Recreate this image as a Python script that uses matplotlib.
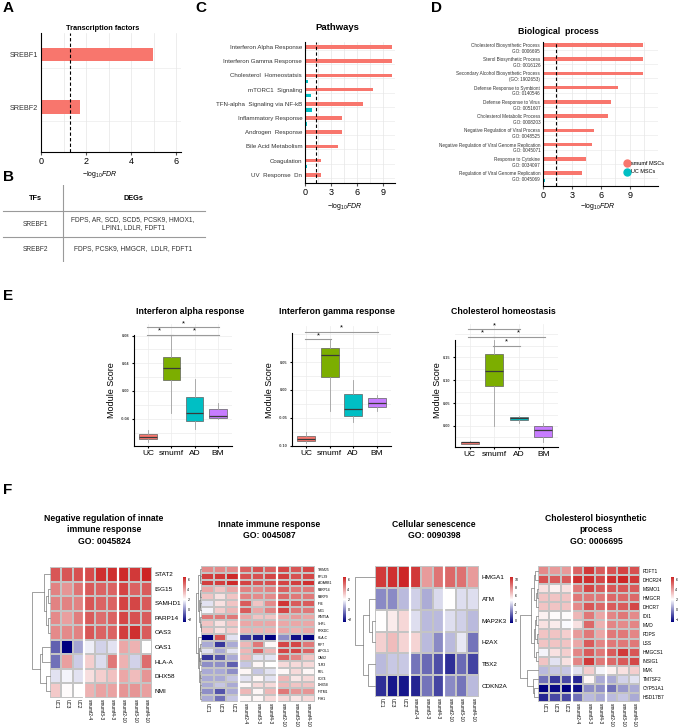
import numpy as np
import matplotlib
matplotlib.use('Agg')
import matplotlib.pyplot as plt
from matplotlib.colors import LinearSegmentedColormap
from matplotlib.lines import Line2D
from matplotlib.ticker import MultipleLocator

plt.rcParams['font.family'] = ['Liberation Sans', 'DejaVu Sans']
plt.rcParams['mathtext.fontset'] = 'custom'
plt.rcParams['mathtext.rm'] = 'Liberation Sans'
plt.rcParams['mathtext.it'] = 'Liberation Sans:italic'

RED, CYAN, GREEN, PURPLE = '#F8766D', '#00BFC4', '#7CAE00', '#C77CFF'

# ---------------- data ----------------
tf_names = ['SREBF1', 'SREBF2']
tf_fdr = [4.95, 1.73]

table_tfs = ['SREBF1', 'SREBF2']
table_degs = ['FDPS, AR, SCD, SCD5, PCSK9, HMOX1,\nLPIN1, LDLR, FDFT1',
              'FDPS, PCSK9, HMGCR,  LDLR, FDFT1']

pathways = ['Interferon Alpha Response', 'Interferon Gamma Response',
            'Cholesterol  Homeostatsis', 'mTORC1  Signaling',
            'TFN-alpha  Signaling via NF-kB', 'Inflammatory Response',
            'Androgen  Response', 'Bile Acid Metabolism', 'Coagulation',
            'UV  Response  Dn']
path_smumf = [10.0, 10.0, 10.0, 7.8, 6.7, 4.3, 4.3, 3.8, 1.9, 1.8]
path_uc = [0.0, 0.0, 0.3, 0.7, 0.8, 0.2, 0.0, 0.0, 0.2, 0.1]

bio_terms = ['Cholesterol Biosynthetic Process\nGO: 0006695',
             'Sterol Biosynthetic Process\nGO: 0016126',
             'Secondary Alcohol Biosynthetic Process\n(GO: 1902653)',
             'Defense Response to Symbiont\nGO: 0140546',
             'Defense Response to Virus\nGO: 0051607',
             'Cholesterol Metabolic Process\nGO: 0008203',
             'Negative Regulation of Viral Process\nGO: 0048525',
             'Negative Regulation of Viral Genome Replication\nGO: 0045071',
             'Response to Cytokine\nGO: 0034097',
             'Regulation of Viral Genome Replication\nGO: 0045069']
bio_smumf = [10.3, 10.3, 10.3, 7.8, 7.0, 6.7, 5.3, 5.1, 4.5, 4.0]
bio_uc = [0, 0, 0, 0, 0, 0, 0, 0, 0, 0.2]
fdr_cutoff = 1.3

groups = ['UC', 'smumf', 'AD', 'BM']
group_colors = [RED, GREEN, CYAN, PURPLE]
# five-number summaries: (whisker low, q1, median, q3, whisker high)
ifna_stats = [(-0.074, -0.069, -0.066, -0.062, -0.056),
              (-0.032, 0.016, 0.033, 0.049, 0.079),
              (-0.055, -0.044, -0.032, -0.008, 0.017),
              (-0.040, -0.039, -0.036, -0.026, -0.017)]
ifng_stats = [(-0.095, -0.092, -0.088, -0.082, -0.076),
              (-0.037, 0.023, 0.0625, 0.076, 0.090),
              (-0.057, -0.046, -0.034, -0.008, 0.018),
              (-0.037, -0.030, -0.023, -0.015, -0.009)]
chol_stats = [(-0.040, -0.039, -0.036, -0.034, -0.033),
              (0.0, 0.087, 0.119, 0.157, 0.188),
              (0.007, 0.012, 0.017, 0.020, 0.022),
              (-0.036, -0.023, -0.009, 0.001, 0.007)]
# significance brackets: (group i, group j, height)
ifna_sig = [(0, 1, 0.081), (1, 3, 0.081), (0, 3, 0.0925)]
ifng_sig = [(0, 1, 0.0914), (0, 3, 0.1045)]
chol_sig = [(1, 2, 0.175), (0, 1, 0.195), (1, 3, 0.195), (0, 2, 0.211)]

samples = ['UC1', 'UC3', 'UC2', 'smumf2-4', 'smumf3-3', 'smumf4-3',
           'smumf2-10', 'smumf3-10', 'smumf4-10']

hm1_genes = ['STAT2', 'ISG15', 'SAMHD1', 'PARP14', 'OAS3', 'OAS1', 'HLA-A', 'DHX58', 'NMI']
hm1_vals = [[5.5, 5.5, 5.6, 5.7, 6.3, 6.3, 6.4, 6.1, 6.5],
            [4.6, 4.2, 4.9, 5.4, 5.2, 5.2, 5.9, 5.2, 5.4],
            [4.6, 4.6, 4.6, 5.5, 5.2, 5.2, 5.9, 5.8, 5.4],
            [4.4, 4.0, 4.7, 5.4, 5.0, 5.2, 5.8, 5.6, 5.4],
            [4.4, 4.4, 4.6, 5.5, 5.2, 5.2, 6.0, 6.3, 5.4],
            [-0.8, -2.5, 0.4, 1.7, 1.2, 1.5, 3.8, 3.6, 2.0],
            [-0.5, 4.0, 1.1, 3.0, 1.4, 4.8, 3.6, 1.2, 5.0],
            [1.5, 1.8, 1.5, 2.7, 3.0, 3.3, 3.8, 3.4, 4.2],
            [3.1, 2.1, 2.0, 3.6, 3.9, 3.9, 4.2, 4.2, 4.0]]
hm1_tree = [[0, [[1, 2, 0.12], [3, 4, 0.12], 0.2], 0.35],
            [[5, 6, 0.45], [7, 8, 0.2], 0.55], 1.0]

hm2_genes = ['TRIM25', 'RPL39', 'ADARB1', 'PARP14', 'PARP9', 'IFI6', 'MX1', 'WNT5A',
             'SHFL', 'PRKDC', 'HLA-C', 'IRF7', 'APOL1', 'OAS2', 'TLR3', 'REL',
             'CD74', 'DHX58', 'IFITM1', 'IFIH1']
hm2_vals = [[4.4, 4.4, 4.4, 5.3, 5.6, 5.3, 5.8, 5.5, 5.8],
            [6.0, 6.1, 6.4, 5.6, 5.6, 5.8, 6.0, 5.6, 5.8],
            [6.0, 6.0, 6.4, 5.9, 5.6, 5.6, 5.9, 6.0, 6.3],
            [3.8, 3.2, 3.8, 4.6, 4.4, 4.6, 5.3, 4.8, 4.8],
            [3.2, 2.6, 3.2, 4.6, 4.4, 4.4, 5.1, 4.8, 4.8],
            [1.5, 2.6, 3.2, 5.4, 3.2, 4.4, 6.2, 5.4, 5.4],
            [1.8, 3.0, 3.5, 5.4, 3.8, 4.6, 5.8, 4.8, 4.8],
            [4.8, 4.8, 4.8, 3.8, 3.2, 3.2, 3.8, 4.1, 3.8],
            [3.2, 2.6, 3.2, 3.8, 3.8, 3.8, 3.8, 3.8, 3.8],
            [3.2, 2.6, 3.0, 3.6, 3.6, 3.6, 3.8, 3.6, 3.8],
            [-2.5, 5.5, 1.5, -1.5, -2.0, -2.5, 0.0, -2.2, -2.5],
            [0.5, -1.5, 0.5, 3.5, 4.8, 2.2, 5.8, 5.8, 4.8],
            [1.5, 0.5, 1.5, 3.5, 5.2, 3.5, 5.8, 5.8, 5.2],
            [-1.5, -1.0, 0.5, 3.5, 1.5, 1.5, 5.2, 4.5, 3.2],
            [0.0, 0.0, -0.8, 1.0, 2.2, 2.0, 2.8, 2.8, 2.8],
            [0.5, 0.5, 0.0, 2.2, 1.0, 1.5, 2.2, 2.8, 2.2],
            [0.5, 0.5, 1.0, 1.5, 2.2, 1.5, 3.5, 2.5, 2.8],
            [0.5, 1.0, 0.5, 2.2, 2.8, 2.8, 3.5, 3.2, 3.2],
            [0.0, -1.0, 0.5, 3.5, 2.2, 3.5, 4.8, 4.2, 4.2],
            [0.5, -0.5, 1.0, 2.2, 2.2, 2.8, 2.8, 2.5, 2.8]]
hm2_tree = [[[0, [1, 2, 0.15], 0.3], [[[3, 4, 0.12], [5, 6, 0.18], 0.28], [7, [8, 9, 0.1], 0.25], 0.4], 0.55],
            [10, [[[11, 12, 0.2], [13, 14, 0.22], 0.32], [[15, 16, 0.12], [17, [18, 19, 0.12], 0.18], 0.25], 0.42], 0.7],
            1.0]

hm3_genes = ['HMGA1', 'ATM', 'MAP2K3', 'H2AX', 'TBX2', 'CDKN2A']
hm3_vals = [[10.0, 10.2, 10.5, 10.0, 7.5, 8.5, 8.8, 8.6, 7.5],
            [2.5, 2.5, 3.5, 4.0, 3.2, 4.2, 5.0, 4.3, 4.3],
            [5.0, 5.5, 6.0, 4.3, 3.5, 3.5, 4.3, 4.0, 3.5],
            [6.2, 6.7, 6.1, 6.1, 3.5, 2.5, 3.5, 4.5, 2.0],
            [3.5, 3.8, 3.8, 2.0, 1.8, 1.2, 0.5, 1.8, 1.0],
            [0.5, 0.0, 0.0, 0.3, 2.0, 1.0, 2.5, 2.0, 3.5]]
hm3_tree = [0, [[1, [2, 3, 0.15], 0.3], [4, 5, 0.35], 0.6], 1.0]

hm4_genes = ['FDFT1', 'DHCR24', 'MSMO1', 'HMGCR', 'DHCR7', 'IDI1', 'MVD', 'FDPS', 'LSS',
             'HMGCS1', 'INSIG1', 'MVK', 'TM7SF2', 'CYP51A1', 'HSD17B7']
hm4_vals = [[4.4, 4.1, 4.1, 5.2, 6.1, 5.4, 5.6, 5.9, 5.6],
            [5.6, 5.4, 5.4, 6.3, 6.3, 5.8, 6.3, 6.6, 6.1],
            [2.6, 2.3, 2.6, 4.8, 5.8, 5.4, 5.5, 5.5, 5.4],
            [3.2, 3.2, 3.2, 4.8, 4.8, 4.8, 5.1, 5.1, 5.1],
            [3.2, 3.2, 3.2, 4.4, 5.5, 5.1, 5.4, 5.4, 5.8],
            [2.3, 2.1, 2.1, 3.5, 4.8, 3.8, 4.5, 4.8, 4.4],
            [2.6, 2.4, 1.9, 2.6, 5.1, 3.6, 4.5, 4.4, 4.5],
            [3.2, 3.2, 3.0, 4.1, 4.8, 3.8, 4.8, 4.8, 4.5],
            [3.2, 3.2, 3.2, 3.8, 5.4, 4.5, 4.8, 4.8, 4.8],
            [1.8, 2.6, 3.0, 4.5, 5.4, 4.8, 5.4, 6.1, 5.5],
            [3.2, 1.5, 2.6, 4.5, 6.1, 4.8, 5.1, 5.4, 5.8],
            [0.8, 1.0, 1.0, 1.5, 3.0, 1.8, 2.3, 2.6, 3.0],
            [-0.5, -1.5, -1.2, -1.8, 2.2, 0.5, 0.5, 1.2, 1.5],
            [-2.5, -2.3, -2.6, -2.2, 0.0, 0.0, -0.5, 0.2, 0.5],
            [-1.8, -1.2, -1.2, -0.5, 0.8, 0.5, 0.8, 1.0, 0.5]]
hm4_tree = [[[[0, 1, 0.15], [[2, 3, 0.08], 4, 0.12], 0.2],
             [[[5, 6, 0.1], [7, 8, 0.08], 0.15], [9, 10, 0.12], 0.2], 0.4],
            [11, [12, [13, 14, 0.2], 0.3], 0.6], 1.0]

# ---------------- figure helpers ----------------
W, H = 678, 728
fig = plt.figure(figsize=(W / 100, H / 100), dpi=100)


def rect(x0, y0, x1, y1):
    return [x0 / W, 1 - y1 / H, (x1 - x0) / W, (y1 - y0) / H]


def ftext(x, y, s, **kw):
    kw.setdefault('ha', 'center')
    kw.setdefault('va', 'center')
    return fig.text(x / W, 1 - y / H, s, **kw)


XLAB = r'$-\mathrm{log}_{10}\mathit{FDR}$'

# panel letters
for letter, (lx, ly) in zip('ABCDEF', [(8, 8), (8, 177), (201, 8), (436, 8), (8, 296), (8, 490)]):
    ftext(lx, ly, letter, fontsize=11, fontweight='bold')


def style_gg(ax):
    ax.set_axisbelow(True)
    for s in ('top', 'right'):
        ax.spines[s].set_visible(False)
    for s in ('left', 'bottom'):
        ax.spines[s].set_color('black')
        ax.spines[s].set_linewidth(0.8)


def bar_panel(box, names, red, uc, xlim, xstep, ylim, label_fs, grid_off, uc_off,
              two_line=False):
    ax = fig.add_axes(rect(*box))
    y = np.arange(len(names))
    ax.barh(y, red, height=0.25, color=RED, zorder=2)
    if uc is not None:
        ax.barh(y + uc_off, uc, height=0.25, color=CYAN, zorder=2)
    ax.axvline(fdr_cutoff, color='black', ls=(0, (3, 2)), lw=0.8, zorder=3)
    ax.set_xlim(*xlim)
    ax.set_ylim(*ylim)
    ax.xaxis.set_major_locator(MultipleLocator(xstep))
    ax.xaxis.set_minor_locator(MultipleLocator(xstep / 2))
    ax.grid(True, axis='x', which='both', color='#e6e6e6', lw=0.5)
    for yy in y:
        ax.axhline(yy + grid_off, color='#ececec', lw=0.5, zorder=0)
    if two_line:
        ax.set_yticks(y + 0.17)
    else:
        ax.set_yticks(y)
    ax.set_yticklabels(names, fontsize=label_fs, color='#333333', multialignment='right')
    ax.tick_params(axis='y', length=0, pad=2)
    ax.tick_params(axis='x', which='major', labelsize=6.5, length=2, pad=1.5, color='#555555')
    ax.tick_params(axis='x', which='minor', length=0)
    style_gg(ax)
    return ax


# ---------------- A ----------------
axA = bar_panel((41, 33, 181, 152), tf_names, tf_fdr, None, (0, 6.2), 2, (1.85, -0.4),
                5.2, 0.27, 0.42)
ftext(103, 28, 'Transcription factors', fontsize=5.3, fontweight='bold')
ftext(100, 175, XLAB, fontsize=5)

# ---------------- B (table) ----------------
axB = fig.add_axes(rect(0, 185, 210, 262))
axB.set_xlim(0, 210)
axB.set_ylim(262, 185)
axB.axis('off')
axB.plot([63, 63], [185, 262], color='#9a9a9a', lw=0.8)
for ly in (211, 237):
    axB.plot([3, 205], [ly, ly], color='#9a9a9a', lw=0.8)
axB.text(35, 198, 'TFs', ha='center', va='center', fontsize=5.3, fontweight='bold')
axB.text(133, 198, 'DEGs', ha='center', va='center', fontsize=5.3, fontweight='bold')
for ty, tf, deg in zip((224, 249), table_tfs, table_degs):
    axB.text(35, ty, tf, ha='center', va='center', fontsize=4.8, color='#333333')
    axB.text(133, ty, deg, ha='center', va='center', fontsize=4.8, color='#333333',
             multialignment='center', linespacing=1.2)

# ---------------- C ----------------
axC = bar_panel((305, 42, 395, 183), pathways, path_smumf, path_uc, (0, 10.4), 3,
                (9.58, -0.35), 4.4, 0.21, 0.42)
ftext(337, 27, 'Pathways', fontsize=6.8, fontweight='bold')
ftext(345, 206, XLAB, fontsize=5)

# ---------------- D ----------------
axD = bar_panel((543, 42, 658, 186), bio_terms, bio_smumf, bio_uc, (0, 11.9), 3,
                (9.9, -0.2), 3.3, 0.35, 0.5, two_line=True)
ftext(558, 31, 'Biological  process', fontsize=6.3, fontweight='bold')
ftext(598, 206, XLAB, fontsize=5)
handles = [Line2D([], [], marker='o', ls='', color=RED, markersize=5),
           Line2D([], [], marker='o', ls='', color=CYAN, markersize=5)]
fig.legend(handles, ['smumf MSCs', 'UC MSCs'], loc='center left',
           bbox_to_anchor=(621 / W, 1 - 167.5 / H), frameon=False, fontsize=4,
           handletextpad=0.1, labelspacing=0.7, handlelength=1.2, borderpad=0)


# ---------------- E ----------------
def box_panel(box, stats, ylim, yticks, spine_top, sigs, title, title_x, ylab_x):
    ax = fig.add_axes(rect(*box))
    bstats = [dict(whislo=s[0], q1=s[1], med=s[2], q3=s[3], whishi=s[4], fliers=[])
              for s in stats]
    b = ax.bxp(bstats, positions=[1, 2, 3, 4], widths=0.75, patch_artist=True,
               showfliers=False, showcaps=False,
               boxprops=dict(linewidth=0.5, edgecolor='#606060'),
               medianprops=dict(color='#3a3a3a', linewidth=0.9),
               whiskerprops=dict(color='#a0a0a0', linewidth=0.6))
    for patch, c in zip(b['boxes'], group_colors):
        patch.set_facecolor(c)
        patch.set_zorder(2)
    ax.set_xlim(0.4, 4.6)
    ax.set_ylim(*ylim)
    ax.set_yticks(yticks)
    ax.set_yticklabels(['%.2f' % v for v in yticks], fontsize=2.8, fontweight='bold',
                       color='#444444')
    step = yticks[1] - yticks[0]
    ax.yaxis.set_minor_locator(MultipleLocator(step / 2))
    ax.set_xticks([1, 2, 3, 4])
    ax.set_xticklabels(groups, fontsize=6)
    ax.grid(True, which='both', color='#ececec', lw=0.5)
    ax.tick_params(axis='both', which='major', length=1.5, pad=1.5)
    ax.tick_params(axis='y', which='minor', length=0)
    style_gg(ax)
    ax.spines['left'].set_bounds(ylim[0], spine_top)
    for i, j, h in sigs:
        ax.plot([i + 1 - 0.05, j + 1 + 0.05], [h, h], color='#9a9a9a', lw=0.8,
                clip_on=False, zorder=3)
        ax.text((i + j) / 2 + 1, h, '*', ha='center', va='bottom', fontsize=5.5,
                clip_on=False)
    ftext(title_x, 311, title, fontsize=6.3, fontweight='bold')
    ftext(ylab_x, 390, 'Module Score', fontsize=6.5, rotation=90)
    return ax


box_panel((134, 324, 232, 446), ifna_stats, (-0.0794, 0.0967), [-0.04, 0.0, 0.04, 0.08],
          0.081, ifna_sig, 'Interferon alpha response', 190, 111)
box_panel((292, 326, 391, 446), ifng_stats, (-0.1004, 0.1147), [-0.10, -0.05, 0.0, 0.05],
          0.1027, ifng_sig, 'Interferon gamma response', 337, 270)
box_panel((455, 324, 558, 447), chol_stats, (-0.0459, 0.2227), [0.0, 0.05, 0.10, 0.15],
          0.188, chol_sig, 'Cholesterol homeostasis', 503, 437)

# ---------------- F (heatmaps) ----------------
cmap_hm = LinearSegmentedColormap.from_list('ph', ['#000080', '#FFFFFF', '#CD2626'])


def draw_tree(ax, node):
    if isinstance(node, int):
        return node + 0.5, 0.0
    left, right, h = node
    yl, hl = draw_tree(ax, left)
    yr, hr = draw_tree(ax, right)
    ax.plot([hl, h, h, hr], [yl, yl, yr, yr], color='#7a7a7a', lw=0.5, clip_on=False)
    return (yl + yr) / 2, h


def heatmap(vals, genes, box, dbox, tree, vlim, cbox, cticks, row_fs, title, tx):
    data = np.array(vals)
    n = len(genes)
    ax = fig.add_axes(rect(*box))
    m = ax.pcolormesh(data, cmap=cmap_hm, vmin=vlim[0], vmax=vlim[1],
                      edgecolors='#c4c4c4', linewidth=0.15)
    ax.set_xlim(0, 9)
    ax.set_ylim(n, 0)
    for g in (3, 6):
        ax.axvline(g, color='white', lw=1.6)
    ax.yaxis.tick_right()
    ax.set_yticks(np.arange(n) + 0.5)
    ax.set_yticklabels(genes, fontsize=row_fs)
    ax.set_xticks(np.arange(9) + 0.5)
    ax.set_xticklabels(samples, fontsize=3.4, rotation=270, ha='center', va='top')
    ax.tick_params(axis='y', length=0, pad=2)
    ax.tick_params(axis='x', length=0, pad=1)
    for s in ax.spines.values():
        s.set_visible(False)
    dax = fig.add_axes(rect(*dbox))
    draw_tree(dax, tree)
    dax.set_xlim(1.0, 0)
    dax.set_ylim(n, 0)
    dax.axis('off')
    cax = fig.add_axes(rect(*cbox))
    cb = fig.colorbar(m, cax=cax, ticks=cticks)
    cb.outline.set_visible(False)
    cax.tick_params(labelsize=2.6, length=0, pad=1)
    ftext(tx, 530, title, fontsize=6.2, fontweight='bold', linespacing=1.35)


heatmap(hm1_vals, hm1_genes, (50, 567, 152, 698), (32, 567, 50, 698), hm1_tree,
        (-2.5, 6.5), (183, 577, 186, 622), [-2, 0, 2, 4, 6], 4.6,
        'Negative regulation of innate\nimmune response\nGO: 0045824', 104)
heatmap(hm2_vals, hm2_genes, (201, 566, 315, 702), (196, 566, 201, 702), hm2_tree,
        (-2.5, 6.5), (343, 577, 346, 622), [-2, 0, 2, 4, 6], 2.4,
        'Innate immune response\nGO: 0045087', 269)
heatmap(hm3_vals, hm3_genes, (375, 566, 479, 697), (355, 566, 375, 697), hm3_tree,
        (-0.5, 10.5), (510, 577, 513, 623), [0, 2, 4, 6, 8, 10], 4.6,
        'Cellular senescence\nGO: 0090398', 434)
heatmap(hm4_vals, hm4_genes, (538, 566, 640, 702), (520, 566, 538, 702), hm4_tree,
        (-2.5, 6.5), (671, 577, 674, 622), [-2, 0, 2, 4, 6], 3.5,
        'Cholesterol biosynthetic\nprocess\nGO: 0006695', 596)

fig.savefig('out.png', dpi=100)
